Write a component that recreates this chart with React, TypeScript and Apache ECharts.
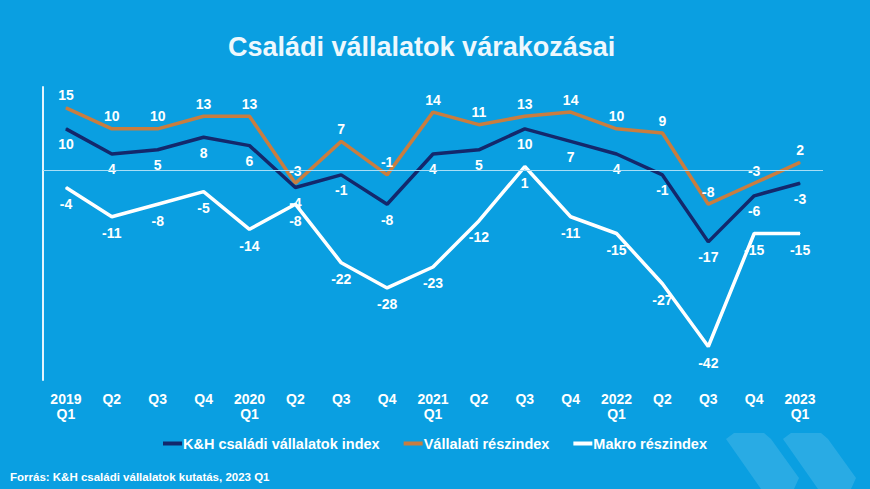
import React, { useEffect, useRef } from 'react';
import * as echarts from 'echarts';

const categories = [
  '2019\nQ1', 'Q2', 'Q3', 'Q4',
  '2020\nQ1', 'Q2', 'Q3', 'Q4',
  '2021\nQ1', 'Q2', 'Q3', 'Q4',
  '2022\nQ1', 'Q2', 'Q3', 'Q4',
  '2023\nQ1',
];
const indexValues = [10, 4, 5, 8, 6, -4, -1, -8, 4, 5, 10, 7, 4, -1, -17, -6, -3];
const companyValues = [15, 10, 10, 13, 13, -3, 7, -1, 14, 11, 13, 14, 10, 9, -8, -3, 2];
const macroValues = [-4, -11, -8, -5, -14, -8, -22, -28, -23, -12, 1, -11, -15, -27, -42, -15, -15];

const seriesNames = ['K&H családi vállalatok index', 'Vállalati részindex', 'Makro részindex'];

const FONT = '"Liberation Sans", Arial, sans-serif';
const BG = '#0a9fe1';

const App = () => {
  const chartRef = useRef<HTMLDivElement>(null);

  useEffect(() => {
    document.body.style.margin = '0';
    let chart: echarts.ECharts | null = null;
    if (chartRef.current) {
      chart = echarts.init(chartRef.current, null, { renderer: 'svg' });

      const label = (position: 'top' | 'bottom', distance: number) => ({
        show: true,
        position,
        distance,
        color: '#ffffff',
        fontFamily: FONT,
        fontWeight: 'bold' as const,
        fontSize: 14,
      });

      const option: echarts.EChartsOption = {
        animation: false,
        backgroundColor: BG,
        title: {
          text: 'Családi vállalatok várakozásai',
          left: 223,
          top: 28,
          textStyle: {
            color: '#eef8fd',
            fontFamily: FONT,
            fontWeight: 'bold',
            fontSize: 27,
          },
        },
        legend: {
          top: 431,
          left: 'center',
          icon: 'rect',
          itemWidth: 19,
          itemHeight: 4,
          itemGap: 24,
          data: seriesNames,
          textStyle: {
            color: '#ffffff',
            fontFamily: FONT,
            fontWeight: 'bold',
            fontSize: 14.5,
            padding: [0, 0, 0, -4],
          },
        },
        grid: { left: 43, right: 47, top: 87, bottom: 109 },
        xAxis: {
          type: 'category',
          data: categories,
          boundaryGap: true,
          axisLine: { show: false },
          axisTick: { show: false },
          axisLabel: {
            color: '#ffffff',
            fontFamily: FONT,
            fontWeight: 'bold',
            fontSize: 14,
            lineHeight: 15,
            margin: 11,
            interval: 0,
          },
        },
        yAxis: {
          type: 'value',
          min: -50,
          max: 20,
          axisLine: { show: true, onZero: false, lineStyle: { color: '#e3f4fc', width: 2 } },
          axisTick: { show: false },
          axisLabel: { show: false },
          splitLine: { show: false },
        },
        graphic: [
          {
            type: 'text',
            left: 10,
            top: 471,
            style: {
              text: 'Forrás: K&H családi vállalatok kutatás, 2023 Q1',
              fill: '#ffffff',
              font: `bold 11.5px ${FONT}`,
            },
          },
          {
            type: 'polygon',
            shape: {
              points: [[726, 439], [734, 433], [764, 433], [771, 439], [799, 478], [794, 489], [761, 489]],
            },
            style: { fill: 'rgba(255,255,255,0.13)' },
            z: -1,
          },
          {
            type: 'polygon',
            shape: {
              points: [[783, 439], [791, 433], [821, 433], [828, 439], [856, 478], [851, 489], [818, 489]],
            },
            style: { fill: 'rgba(255,255,255,0.13)' },
            z: -1,
          },
        ],
        series: [
          {
            name: seriesNames[2],
            type: 'line',
            data: macroValues,
            symbol: 'circle',
            symbolSize: 1,
            color: '#ffffff',
            lineStyle: { width: 3.5, color: '#ffffff' },
            label: label('bottom', 9),
            markLine: {
              silent: true,
              symbol: 'none',
              label: { show: false },
              lineStyle: { color: '#a9def6', width: 1, type: 'solid' },
              data: [{ yAxis: 0 }],
            },
            z: 2,
          },
          {
            name: seriesNames[1],
            type: 'line',
            data: companyValues,
            symbol: 'circle',
            symbolSize: 1,
            color: '#c97d3f',
            lineStyle: { width: 3.5, color: '#c97d3f' },
            label: label('top', 5),
            z: 3,
          },
          {
            name: seriesNames[0],
            type: 'line',
            data: indexValues,
            symbol: 'circle',
            symbolSize: 1,
            color: '#13286c',
            lineStyle: { width: 3.5, color: '#13286c' },
            label: label('bottom', 8),
            z: 4,
          },
        ],
      };
      chart.setOption(option);
    }
    return () => {
      chart?.dispose();
    };
  }, []);

  return <div ref={chartRef} style={{ width: 870, height: 489, background: BG }} />;
};

export default App;
